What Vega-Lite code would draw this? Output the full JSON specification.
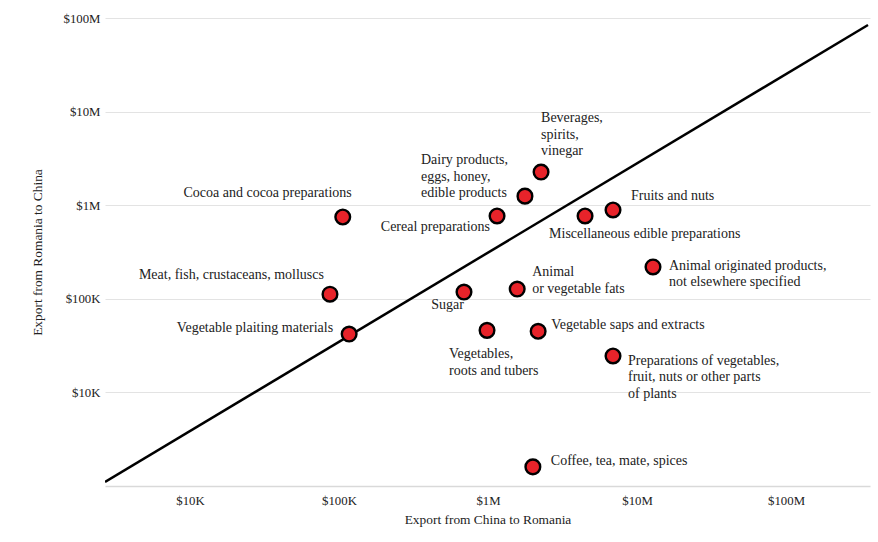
{
  "$schema": "https://vega.github.io/schema/vega-lite/v6.json",
  "autosize": {"type": "none"},
  "padding": {"left": 105, "top": 18, "right": 8, "bottom": 56},
  "width": 765,
  "height": 468,
  "background": "white",
  "config": {
    "font": "Liberation Serif",
    "view": {"stroke": null},
    "axis": {"labelFont": "Liberation Serif", "titleFont": "Liberation Serif", "labelFontSize": 12.8, "titleFontSize": 13.4, "titleFontWeight": "normal", "labelColor": "#222", "titleColor": "#222"}
  },
  "datasets": {
    "points": [
      {"name": "Cocoa and cocoa preparations", "china_to_romania": 106000, "romania_to_china": 748000},
      {"name": "Meat, fish, crustaceans, molluscs", "china_to_romania": 87000, "romania_to_china": 112000},
      {"name": "Vegetable plaiting materials", "china_to_romania": 117000, "romania_to_china": 42000},
      {"name": "Sugar", "china_to_romania": 690000, "romania_to_china": 118000},
      {"name": "Vegetables,\nroots and tubers", "china_to_romania": 985000, "romania_to_china": 46000},
      {"name": "Animal\nor vegetable fats", "china_to_romania": 1570000, "romania_to_china": 127000},
      {"name": "Vegetable saps and extracts", "china_to_romania": 2170000, "romania_to_china": 45000},
      {"name": "Cereal preparations", "china_to_romania": 1150000, "romania_to_china": 767000},
      {"name": "Dairy products,\neggs, honey,\nedible products", "china_to_romania": 1770000, "romania_to_china": 1250000},
      {"name": "Beverages,\nspirits,\nvinegar", "china_to_romania": 2270000, "romania_to_china": 2260000},
      {"name": "Miscellaneous edible preparations", "china_to_romania": 4480000, "romania_to_china": 767000},
      {"name": "Fruits and nuts", "china_to_romania": 6900000, "romania_to_china": 889000},
      {"name": "Animal originated products,\nnot elsewhere specified", "china_to_romania": 12800000, "romania_to_china": 219000},
      {"name": "Preparations of vegetables,\nfruit, nuts or other parts\nof plants", "china_to_romania": 6900000, "romania_to_china": 24500},
      {"name": "Coffee, tea, mate, spices", "china_to_romania": 2000000, "romania_to_china": 1600}
    ],
    "trend": [
      {"china_to_romania": 2692, "romania_to_china": 1104},
      {"china_to_romania": 354800000, "romania_to_china": 84200000}
    ]
  },
  "layer": [
    {
      "data": {"name": "trend"},
      "mark": {"type": "line", "color": "#000", "strokeWidth": 2.5, "clip": true},
      "encoding": {
        "x": {"field": "china_to_romania", "type": "quantitative",
          "scale": {"type": "log", "domain": [2690, 366000000], "nice": false},
          "axis": {"title": "Export from China to Romania", "values": [10000, 100000, 1000000, 10000000, 100000000],
            "labelExpr": "datum.value >= 1000000 ? '$' + format(datum.value/1000000, 'd') + 'M' : '$' + format(datum.value/1000, 'd') + 'K'",
            "grid": false, "ticks": false, "domain": true, "domainColor": "#d9d9d9", "domainWidth": 1.5, "labelPadding": 8, "titlePadding": 6}},
        "y": {"field": "romania_to_china", "type": "quantitative",
          "scale": {"type": "log", "domain": [1000, 100000000], "nice": false},
          "axis": {"title": "Export from Romania to China", "values": [10000, 100000, 1000000, 10000000, 100000000],
            "labelExpr": "datum.value >= 1000000 ? '$' + format(datum.value/1000000, 'd') + 'M' : '$' + format(datum.value/1000, 'd') + 'K'",
            "grid": true, "gridColor": "#e3e3e3", "ticks": false, "domain": false, "labelPadding": 5, "titlePadding": 19}}
      }
    },
    {
      "data": {"name": "points"},
      "encoding": {
        "x": {"field": "china_to_romania", "type": "quantitative"},
        "y": {"field": "romania_to_china", "type": "quantitative"},
        "text": {"field": "name"}
      },
      "layer": [
        {"mark": {"type": "circle", "size": 215, "fill": "#e8232a", "stroke": "#000", "strokeWidth": 2.4, "opacity": 1}},
        {"transform": [{"filter": "datum.name === 'Cocoa and cocoa preparations'"}], "mark": {"type": "text", "align": "right", "baseline": "top", "dx": 9, "dy": -31, "fontSize": 14, "lineHeight": 16.5, "color": "#222"}},
        {"transform": [{"filter": "datum.name === 'Meat, fish, crustaceans, molluscs'"}], "mark": {"type": "text", "align": "right", "baseline": "top", "dx": -6, "dy": -26, "fontSize": 14, "lineHeight": 16.5, "color": "#222"}},
        {"transform": [{"filter": "datum.name === 'Vegetable plaiting materials'"}], "mark": {"type": "text", "align": "right", "baseline": "top", "dx": -16, "dy": -13, "fontSize": 14, "lineHeight": 16.5, "color": "#222"}},
        {"transform": [{"filter": "datum.name === 'Sugar'"}], "mark": {"type": "text", "align": "right", "baseline": "top", "dx": 0, "dy": 6, "fontSize": 14, "lineHeight": 16.5, "color": "#222"}},
        {"transform": [{"filter": "indexof(datum.name, 'Vegetables,') === 0"}], "mark": {"type": "text", "align": "left", "baseline": "top", "dx": -38, "dy": 17, "fontSize": 14, "lineHeight": 16.5, "lineBreak": "\n", "color": "#222"}},
        {"transform": [{"filter": "indexof(datum.name, 'or vegetable fats') > 0"}], "mark": {"type": "text", "align": "left", "baseline": "top", "dx": 15, "dy": -24, "fontSize": 14, "lineHeight": 16.5, "lineBreak": "\n", "color": "#222"}},
        {"transform": [{"filter": "datum.name === 'Vegetable saps and extracts'"}], "mark": {"type": "text", "align": "left", "baseline": "top", "dx": 13, "dy": -13, "fontSize": 14, "lineHeight": 16.5, "color": "#222"}},
        {"transform": [{"filter": "datum.name === 'Cereal preparations'"}], "mark": {"type": "text", "align": "right", "baseline": "top", "dx": -7, "dy": 4, "fontSize": 14, "lineHeight": 16.5, "color": "#222"}},
        {"transform": [{"filter": "indexof(datum.name, 'Dairy') === 0"}], "mark": {"type": "text", "align": "left", "baseline": "top", "dx": -104, "dy": -43, "fontSize": 14, "lineHeight": 16.5, "lineBreak": "\n", "color": "#222"}},
        {"transform": [{"filter": "indexof(datum.name, 'Beverages') === 0"}], "mark": {"type": "text", "align": "left", "baseline": "top", "dx": 0, "dy": -61, "fontSize": 14, "lineHeight": 16.5, "lineBreak": "\n", "color": "#222"}},
        {"transform": [{"filter": "datum.name === 'Miscellaneous edible preparations'"}], "mark": {"type": "text", "align": "left", "baseline": "top", "dx": -36, "dy": 11, "fontSize": 14, "lineHeight": 16.5, "color": "#222"}},
        {"transform": [{"filter": "datum.name === 'Fruits and nuts'"}], "mark": {"type": "text", "align": "left", "baseline": "top", "dx": 18, "dy": -21, "fontSize": 14, "lineHeight": 16.5, "color": "#222"}},
        {"transform": [{"filter": "indexof(datum.name, 'Animal originated') === 0"}], "mark": {"type": "text", "align": "left", "baseline": "top", "dx": 16, "dy": -8, "fontSize": 14, "lineHeight": 16.5, "lineBreak": "\n", "color": "#222"}},
        {"transform": [{"filter": "indexof(datum.name, 'Preparations') === 0"}], "mark": {"type": "text", "align": "left", "baseline": "top", "dx": 15, "dy": -2, "fontSize": 14, "lineHeight": 16.5, "lineBreak": "\n", "color": "#222"}},
        {"transform": [{"filter": "datum.name === 'Coffee, tea, mate, spices'"}], "mark": {"type": "text", "align": "left", "baseline": "top", "dx": 18, "dy": -13, "fontSize": 14, "lineHeight": 16.5, "color": "#222"}}
      ]
    }
  ]
}
